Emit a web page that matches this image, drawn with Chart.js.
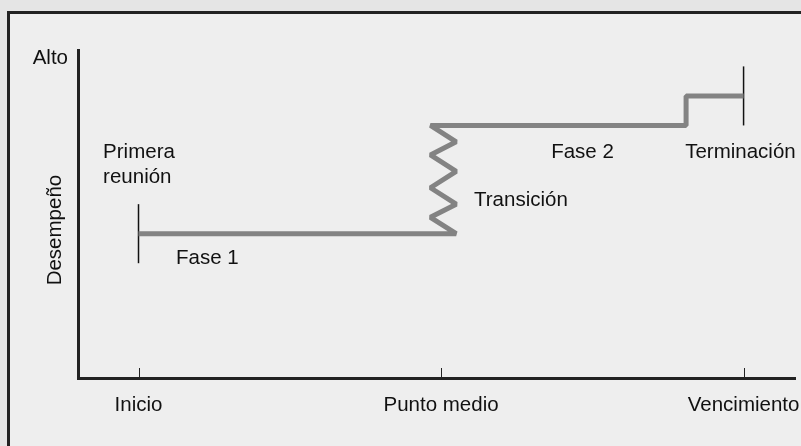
<!DOCTYPE html>
<html>
<head>
<meta charset="utf-8">
<script src="https://cdn.jsdelivr.net/npm/chart.js@4/dist/chart.umd.min.js"></script>
<style>
  body { margin: 0; background: #e5e5e5; overflow: hidden; }
  #marco {
    position: absolute; left: 7px; top: 11px; width: 820px; height: 460px;
    border: 3px solid #222; background: #eeeeee;
  }
  #grafico { position: absolute; left: 0; top: 0; }
</style>
</head>
<body>
<div id="marco"></div>
<canvas id="grafico" width="801" height="446"></canvas>
<script>
// eje x: momentos del proyecto
const tickValues = [1, 2, 3];
const tickLabels = ["Inicio", "Punto medio", "Vencimiento"];

// recorrido del desempeño (fase 1, transición, fase 2, terminación)
const pathX = [1, 2.05, 1.965, 2.05, 1.965, 2.05, 1.965, 2.05, 1.965, 2.81, 2.81, 3];
const pathY = [44, 44, 49, 53, 58, 63, 68, 72, 77, 77, 86, 86];

// marcas verticales de inicio y fin
const startMarkX = [1, 1];
const startMarkY = [35, 53];
const endMarkX = [3, 3];
const endMarkY = [77, 95];

// etiquetas dentro del gráfico
const notas = [
  { text: "Primera", x: 0.883, y: 68.9 },
  { text: "reunión", x: 0.883, y: 61.3 },
  { text: "Fase 1", x: 1.124, y: 36.6 },
  { text: "Transición", x: 2.109, y: 54.3 },
  { text: "Fase 2", x: 2.364, y: 68.9 },
  { text: "Terminación", x: 2.807, y: 68.9 },
];

const fuente = "'Liberation Sans', Arial, sans-serif";

function puntos(xs, ys) {
  return xs.map((x, i) => ({ x: x, y: ys[i] }));
}

const notasPlugin = {
  id: "notas",
  afterDraw(chart) {
    const ctx = chart.ctx;
    const sx = chart.scales.x;
    const sy = chart.scales.y;
    ctx.save();
    // marcas del eje x hacia arriba
    ctx.strokeStyle = "#222";
    ctx.lineWidth = 1;
    const base = chart.chartArea.bottom;
    tickValues.forEach((v) => {
      const px = Math.round(sx.getPixelForValue(v)) + 0.5;
      ctx.beginPath();
      ctx.moveTo(px, base);
      ctx.lineTo(px, base - 10);
      ctx.stroke();
    });
    ctx.fillStyle = "#111";
    ctx.font = "20.5px " + fuente;
    ctx.textBaseline = "middle";
    ctx.textAlign = "left";
    notas.forEach((n) => {
      ctx.fillText(n.text, sx.getPixelForValue(n.x), sy.getPixelForValue(n.y));
    });
    // título del eje y
    ctx.translate(sx.getPixelForValue(0.724), sy.getPixelForValue(45.1));
    ctx.rotate(-Math.PI / 2);
    ctx.textAlign = "center";
    ctx.fillText("Desempeño", 0, 0);
    ctx.restore();
  },
};

const ctx = document.getElementById("grafico");

const data = {
  datasets: [
    {
      data: puntos(pathX, pathY),
      borderColor: "#838383",
      borderWidth: 5,
      borderJoinStyle: "bevel",
      borderCapStyle: "butt",
      pointRadius: 0,
      showLine: true,
      tension: 0,
    },
    {
      data: puntos(startMarkX, startMarkY),
      borderColor: "#111",
      borderWidth: 1.5,
      pointRadius: 0,
      showLine: true,
    },
    {
      data: puntos(endMarkX, endMarkY),
      borderColor: "#111",
      borderWidth: 1.5,
      pointRadius: 0,
      showLine: true,
    },
  ],
};

const config = {
  type: "scatter",
  data: data,
  plugins: [notasPlugin],
  options: {
    responsive: false,
    animation: false,
    devicePixelRatio: 1,
    layout: { padding: { left: 0, top: 50, right: 6, bottom: 0 } },
    plugins: { legend: { display: false }, tooltip: { enabled: false } },
    scales: {
      x: {
        type: "linear",
        min: 0.8,
        max: 3.17,
        grid: { display: false, drawTicks: false },
        border: { display: true, color: "#222", width: 3 },
        afterBuildTicks: (scale) => {
          scale.ticks = tickValues.map((v) => ({ value: v }));
        },
        afterFit: (scale) => {
          scale.height = 68;
          scale.paddingLeft = 0;
          scale.paddingRight = 0;
        },
        ticks: {
          autoSkip: false,
          maxRotation: 0,
          padding: 15,
          color: "#111",
          font: { family: fuente, size: 20.5 },
          callback: (v) => tickLabels[tickValues.indexOf(v)] ?? "",
        },
      },
      y: {
        type: "linear",
        min: 0,
        max: 100,
        grid: { display: false, drawTicks: false },
        border: { display: true, color: "#222", width: 3 },
        afterBuildTicks: (scale) => {
          scale.ticks = [{ value: 97.5 }];
        },
        afterFit: (scale) => {
          scale.width = 78;
          scale.paddingTop = 0;
          scale.paddingBottom = 0;
        },
        ticks: {
          padding: 10,
          color: "#111",
          font: { family: fuente, size: 20.5 },
          callback: () => "Alto",
        },
      },
    },
  },
};

new Chart(ctx, config);
</script>
</body>
</html>
